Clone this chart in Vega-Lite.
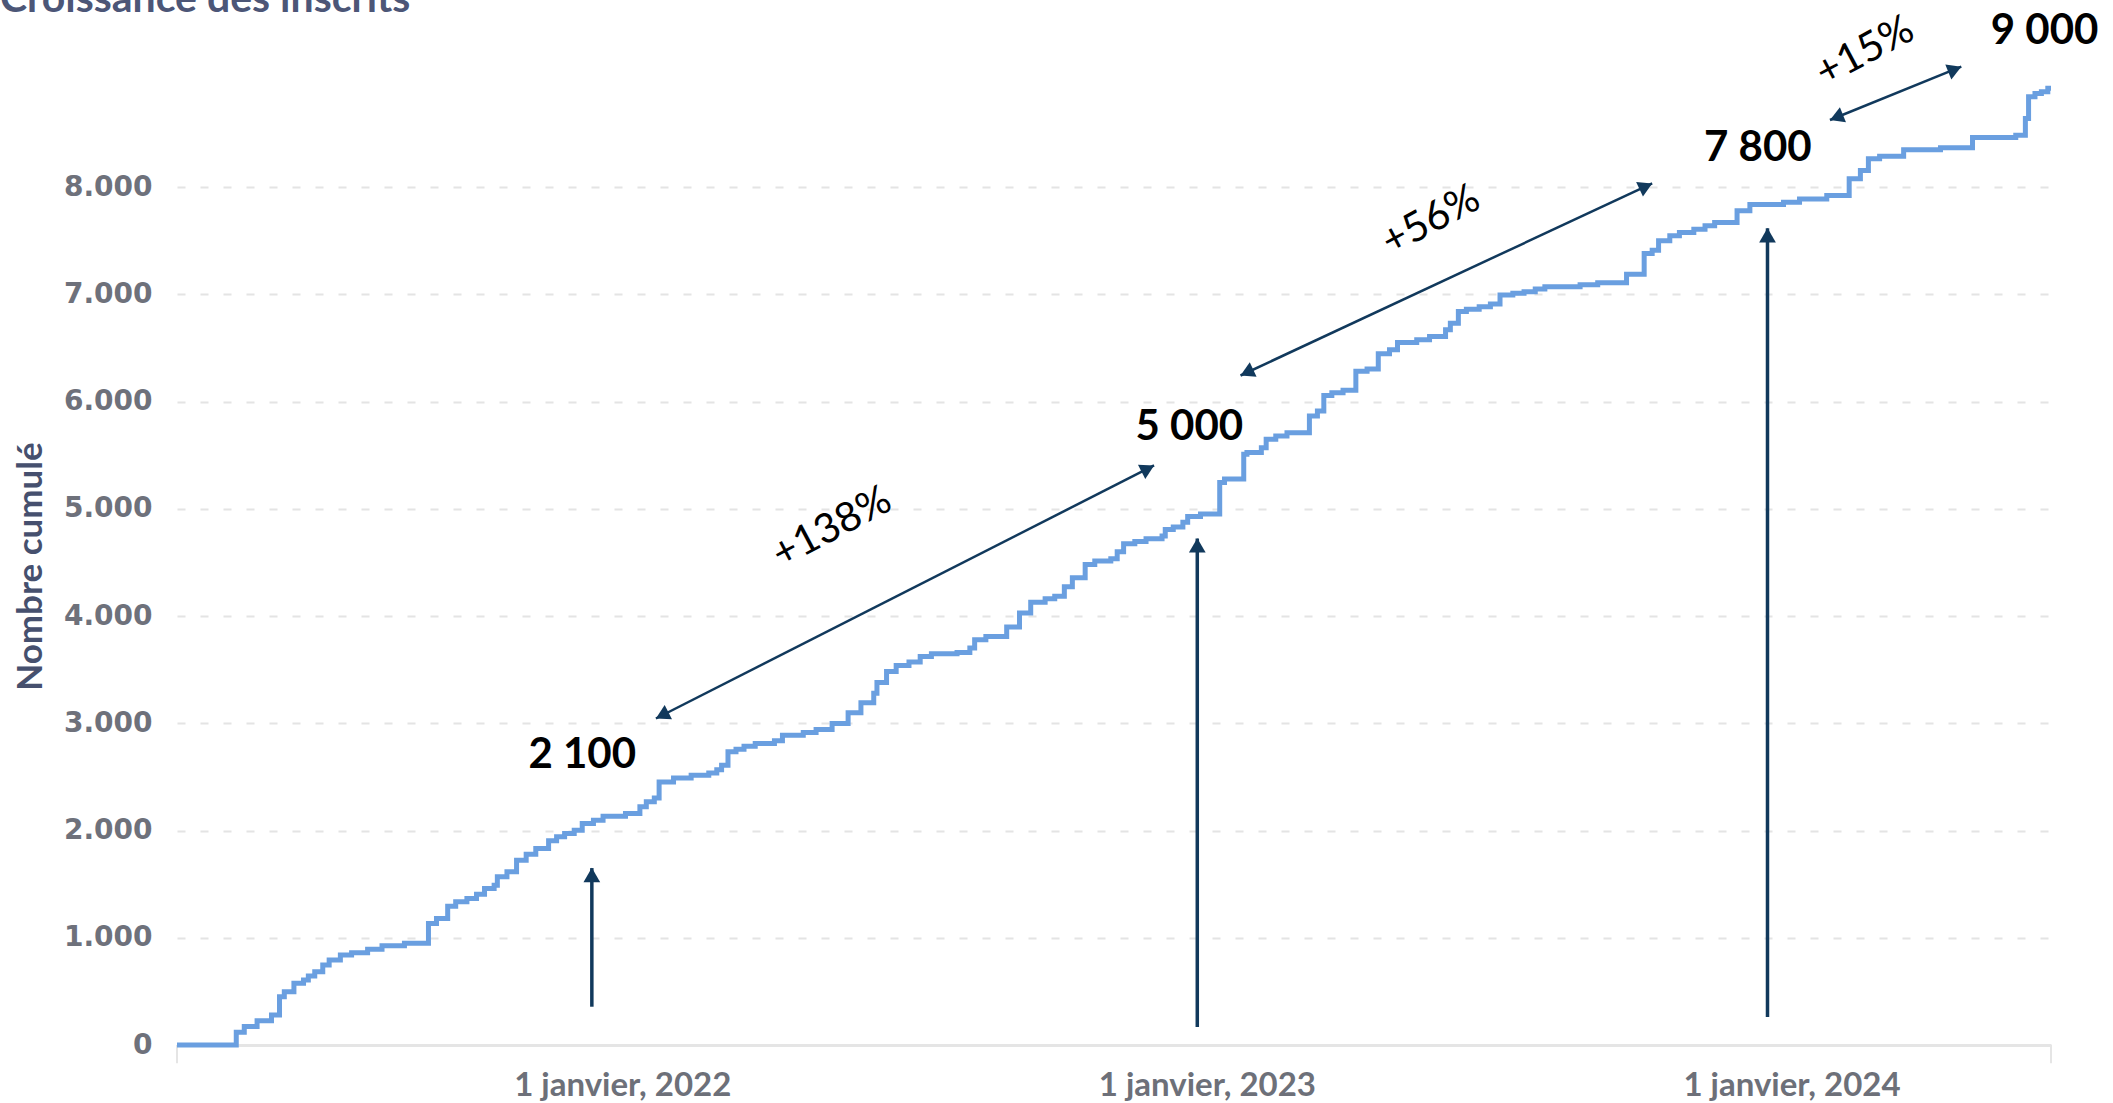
{
  "$schema": "https://vega.github.io/schema/vega-lite/v6.json",
  "autosize": {"type": "none"},
  "padding": {"left": 177, "top": 80, "right": 62, "bottom": 58},
  "width": 1874,
  "height": 965,
  "background": "white",
  "title": {
    "text": "Croissance des inscrits",
    "anchor": "start",
    "frame": "group",
    "dx": -177,
    "dy": 48,
    "baseline": "alphabetic",
    "font": "Lato",
    "fontSize": 41,
    "fontWeight": "bold",
    "color": "#4c5677"
  },
  "config": {"view": {"stroke": null}},
  "datasets": {
    "series": [
      {"d": "2021-03-29", "v": 0},
      {"d": "2021-05-05", "v": 118},
      {"d": "2021-05-10", "v": 172},
      {"d": "2021-05-18", "v": 227},
      {"d": "2021-05-27", "v": 280},
      {"d": "2021-06-01", "v": 450},
      {"d": "2021-06-04", "v": 497},
      {"d": "2021-06-10", "v": 575},
      {"d": "2021-06-16", "v": 606},
      {"d": "2021-06-19", "v": 643},
      {"d": "2021-06-23", "v": 683},
      {"d": "2021-06-28", "v": 746},
      {"d": "2021-07-02", "v": 792},
      {"d": "2021-07-09", "v": 839},
      {"d": "2021-07-16", "v": 861},
      {"d": "2021-07-26", "v": 892},
      {"d": "2021-08-04", "v": 926},
      {"d": "2021-08-18", "v": 948},
      {"d": "2021-09-02", "v": 1134},
      {"d": "2021-09-07", "v": 1180},
      {"d": "2021-09-14", "v": 1295},
      {"d": "2021-09-19", "v": 1336},
      {"d": "2021-09-26", "v": 1367},
      {"d": "2021-10-02", "v": 1407},
      {"d": "2021-10-07", "v": 1460},
      {"d": "2021-10-13", "v": 1491},
      {"d": "2021-10-15", "v": 1569},
      {"d": "2021-10-21", "v": 1615},
      {"d": "2021-10-27", "v": 1724},
      {"d": "2021-11-02", "v": 1780},
      {"d": "2021-11-08", "v": 1833},
      {"d": "2021-11-16", "v": 1904},
      {"d": "2021-11-21", "v": 1942},
      {"d": "2021-11-26", "v": 1973},
      {"d": "2021-12-02", "v": 2004},
      {"d": "2021-12-07", "v": 2066},
      {"d": "2021-12-14", "v": 2097},
      {"d": "2021-12-20", "v": 2134},
      {"d": "2022-01-03", "v": 2159},
      {"d": "2022-01-12", "v": 2221},
      {"d": "2022-01-16", "v": 2268},
      {"d": "2022-01-21", "v": 2303},
      {"d": "2022-01-24", "v": 2453},
      {"d": "2022-02-02", "v": 2490},
      {"d": "2022-02-13", "v": 2515},
      {"d": "2022-02-24", "v": 2537},
      {"d": "2022-03-01", "v": 2568},
      {"d": "2022-03-04", "v": 2609},
      {"d": "2022-03-08", "v": 2734},
      {"d": "2022-03-13", "v": 2759},
      {"d": "2022-03-18", "v": 2787},
      {"d": "2022-03-25", "v": 2812},
      {"d": "2022-04-06", "v": 2837},
      {"d": "2022-04-11", "v": 2890},
      {"d": "2022-04-24", "v": 2915},
      {"d": "2022-05-02", "v": 2943},
      {"d": "2022-05-12", "v": 2999},
      {"d": "2022-05-22", "v": 3099},
      {"d": "2022-05-30", "v": 3193},
      {"d": "2022-06-07", "v": 3280},
      {"d": "2022-06-09", "v": 3380},
      {"d": "2022-06-15", "v": 3483},
      {"d": "2022-06-21", "v": 3539},
      {"d": "2022-06-29", "v": 3571},
      {"d": "2022-07-06", "v": 3624},
      {"d": "2022-07-13", "v": 3649},
      {"d": "2022-07-29", "v": 3661},
      {"d": "2022-08-06", "v": 3702},
      {"d": "2022-08-09", "v": 3780},
      {"d": "2022-08-16", "v": 3811},
      {"d": "2022-08-29", "v": 3899},
      {"d": "2022-09-06", "v": 4030},
      {"d": "2022-09-13", "v": 4130},
      {"d": "2022-09-22", "v": 4161},
      {"d": "2022-09-28", "v": 4186},
      {"d": "2022-10-04", "v": 4273},
      {"d": "2022-10-09", "v": 4357},
      {"d": "2022-10-17", "v": 4482},
      {"d": "2022-10-23", "v": 4513},
      {"d": "2022-11-02", "v": 4535},
      {"d": "2022-11-06", "v": 4600},
      {"d": "2022-11-10", "v": 4675},
      {"d": "2022-11-17", "v": 4697},
      {"d": "2022-11-24", "v": 4721},
      {"d": "2022-12-04", "v": 4746},
      {"d": "2022-12-06", "v": 4808},
      {"d": "2022-12-11", "v": 4830},
      {"d": "2022-12-17", "v": 4876},
      {"d": "2022-12-20", "v": 4929},
      {"d": "2022-12-28", "v": 4953},
      {"d": "2023-01-09", "v": 5247},
      {"d": "2023-01-12", "v": 5278},
      {"d": "2023-01-24", "v": 5510},
      {"d": "2023-01-26", "v": 5525},
      {"d": "2023-02-04", "v": 5571},
      {"d": "2023-02-07", "v": 5649},
      {"d": "2023-02-13", "v": 5680},
      {"d": "2023-02-20", "v": 5711},
      {"d": "2023-03-06", "v": 5866},
      {"d": "2023-03-11", "v": 5912},
      {"d": "2023-03-15", "v": 6057},
      {"d": "2023-03-20", "v": 6082},
      {"d": "2023-03-27", "v": 6107},
      {"d": "2023-04-04", "v": 6283},
      {"d": "2023-04-11", "v": 6305},
      {"d": "2023-04-18", "v": 6447},
      {"d": "2023-04-25", "v": 6484},
      {"d": "2023-04-30", "v": 6552},
      {"d": "2023-05-12", "v": 6577},
      {"d": "2023-05-20", "v": 6608},
      {"d": "2023-05-30", "v": 6670},
      {"d": "2023-06-02", "v": 6732},
      {"d": "2023-06-07", "v": 6840},
      {"d": "2023-06-12", "v": 6862},
      {"d": "2023-06-20", "v": 6886},
      {"d": "2023-06-27", "v": 6911},
      {"d": "2023-07-03", "v": 6995},
      {"d": "2023-07-11", "v": 7010},
      {"d": "2023-07-18", "v": 7026},
      {"d": "2023-07-25", "v": 7050},
      {"d": "2023-07-31", "v": 7072},
      {"d": "2023-08-22", "v": 7090},
      {"d": "2023-09-02", "v": 7109},
      {"d": "2023-09-20", "v": 7188},
      {"d": "2023-10-01", "v": 7381},
      {"d": "2023-10-06", "v": 7413},
      {"d": "2023-10-10", "v": 7500},
      {"d": "2023-10-17", "v": 7547},
      {"d": "2023-10-23", "v": 7578},
      {"d": "2023-11-01", "v": 7609},
      {"d": "2023-11-08", "v": 7641},
      {"d": "2023-11-14", "v": 7672},
      {"d": "2023-11-28", "v": 7781},
      {"d": "2023-12-06", "v": 7838},
      {"d": "2023-12-27", "v": 7859},
      {"d": "2024-01-06", "v": 7891},
      {"d": "2024-01-23", "v": 7922},
      {"d": "2024-02-06", "v": 8078},
      {"d": "2024-02-13", "v": 8156},
      {"d": "2024-02-18", "v": 8266},
      {"d": "2024-02-25", "v": 8288},
      {"d": "2024-03-11", "v": 8350},
      {"d": "2024-04-03", "v": 8369},
      {"d": "2024-04-23", "v": 8463},
      {"d": "2024-05-20", "v": 8484},
      {"d": "2024-05-26", "v": 8641},
      {"d": "2024-05-28", "v": 8844},
      {"d": "2024-06-01", "v": 8875},
      {"d": "2024-06-05", "v": 8891},
      {"d": "2024-06-09", "v": 8922},
      {"d": "2024-06-11", "v": 8922}
    ],
    "edges": [
      {"d": "2021-03-29", "v": 0, "v2": -170},
      {"d": "2024-06-11", "v": 0, "v2": -170}
    ],
    "vertical": [
      {"d": "2021-12-13", "base": 357, "tip": 1650},
      {"d": "2022-12-26", "base": 168, "tip": 4725},
      {"d": "2023-12-17", "base": 261, "tip": 7617}
    ],
    "diagonal": [
      {"id": 1, "d1": "2022-01-22", "v1": 3045, "d2": "2022-11-29", "v2": 5405},
      {"id": 2, "d1": "2023-01-22", "v1": 6244, "d2": "2023-10-06", "v2": 8036},
      {"id": 3, "d1": "2024-01-25", "v1": 8627, "d2": "2024-04-16", "v2": 9124}
    ],
    "values": [
      {"d": "2021-12-07", "v": 2705, "label": "2 100"},
      {"d": "2022-12-21", "v": 5760, "label": "5 000"},
      {"d": "2023-12-11", "v": 8365, "label": "7 800"},
      {"d": "2024-06-07", "v": 9460, "label": "9 000"}
    ],
    "growth": [
      {"d": "2022-05-12", "v": 4823, "label": "+138%"},
      {"d": "2023-05-21", "v": 7687, "label": "+56%"},
      {"d": "2024-02-16", "v": 9263, "label": "+15%"}
    ]
  },
  "encoding": {
    "x": {
      "field": "d",
      "type": "temporal",
      "scale": {
        "type": "utc",
        "domain": [
          {"year": 2021, "month": 3, "date": 29, "utc": true},
          {"year": 2024, "month": 6, "date": 11, "utc": true}
        ]
      },
      "axis": {
        "title": null,
        "values": [
          {"year": 2022, "month": 1, "date": 1, "utc": true},
          {"year": 2023, "month": 1, "date": 1, "utc": true},
          {"year": 2024, "month": 1, "date": 1, "utc": true}
        ],
        "labelExpr": "'1 janvier, ' + utcyear(datum.value)",
        "labelLimit": 0,
        "grid": false,
        "ticks": false,
        "domain": true,
        "domainColor": "#e5e5e5",
        "domainWidth": 3,
        "labelFont": "Lato",
        "labelFontSize": 33,
        "labelFontWeight": "bold",
        "labelColor": "#6d7079",
        "labelBaseline": "middle",
        "labelPadding": 40
      }
    }
  },
  "layer": [
    {
      "data": {"name": "edges"},
      "mark": {"type": "rule", "color": "#e5e5e5", "strokeWidth": 2},
      "encoding": {
        "y": {"field": "v", "type": "quantitative"},
        "y2": {"field": "v2"}
      }
    },
    {
      "data": {"name": "series"},
      "mark": {"type": "line", "interpolate": "step-after", "color": "#6a9fe0", "strokeWidth": 5},
      "encoding": {
        "y": {
          "field": "v",
          "type": "quantitative",
          "scale": {"domain": [0, 9000], "nice": false, "zero": true},
          "axis": {
            "title": "Nombre cumulé",
            "titleFont": "Lato",
            "titleFontSize": 35,
            "titleFontWeight": "bold",
            "titleColor": "#46506e",
            "titleAngle": -90,
            "titleX": -147,
            "titleY": 486,
            "titleAlign": "center",
            "titleBaseline": "middle",
            "values": [0, 1000, 2000, 3000, 4000, 5000, 6000, 7000, 8000],
            "labelExpr": "replace(format(datum.value, ','), ',', '.')",
            "labelFont": "DejaVu Sans",
            "labelFontWeight": "bold",
            "labelFontSize": 28,
            "labelColor": "#6e717b",
            "labelPadding": 25,
            "domain": false,
            "ticks": false,
            "grid": true,
            "gridColor": "#e4e4e4",
            "gridWidth": 2,
            "gridDash": [8, 15],
            "gridOpacity": {"condition": {"test": "datum.value === 0", "value": 0}, "value": 1}
          }
        }
      }
    },
    {
      "data": {"name": "vertical"},
      "mark": {"type": "rule", "color": "#11395c", "strokeWidth": 3.5},
      "encoding": {
        "y": {"field": "base", "type": "quantitative"},
        "y2": {"field": "tip"}
      }
    },
    {
      "data": {"name": "vertical"},
      "mark": {"type": "point", "shape": "triangle-up", "filled": true, "color": "#11395c", "opacity": 1, "size": 280, "yOffset": 7},
      "encoding": {
        "y": {"field": "tip", "type": "quantitative"}
      }
    },
    {
      "data": {"name": "diagonal"},
      "mark": {"type": "rule", "color": "#11395c", "strokeWidth": 2.5},
      "encoding": {
        "x": {"field": "d1", "type": "temporal"},
        "x2": {"field": "d2"},
        "y": {"field": "v1", "type": "quantitative"},
        "y2": {"field": "v2"}
      }
    },
    {
      "data": {"name": "diagonal"},
      "transform": [{"filter": "datum.id === 1"}],
      "mark": {"type": "point", "shape": "triangle-up", "filled": true, "color": "#11395c", "opacity": 1, "size": 260, "angle": 63, "xOffset": -6.2, "yOffset": 3.2},
      "encoding": {
        "x": {"field": "d2", "type": "temporal"},
        "y": {"field": "v2", "type": "quantitative"}
      }
    },
    {
      "data": {"name": "diagonal"},
      "transform": [{"filter": "datum.id === 1"}],
      "mark": {"type": "point", "shape": "triangle-up", "filled": true, "color": "#11395c", "opacity": 1, "size": 260, "angle": 243, "xOffset": 6.2, "yOffset": -3.2},
      "encoding": {
        "x": {"field": "d1", "type": "temporal"},
        "y": {"field": "v1", "type": "quantitative"}
      }
    },
    {
      "data": {"name": "diagonal"},
      "transform": [{"filter": "datum.id === 2"}],
      "mark": {"type": "point", "shape": "triangle-up", "filled": true, "color": "#11395c", "opacity": 1, "size": 260, "angle": 65, "xOffset": -6.3, "yOffset": 3.0},
      "encoding": {
        "x": {"field": "d2", "type": "temporal"},
        "y": {"field": "v2", "type": "quantitative"}
      }
    },
    {
      "data": {"name": "diagonal"},
      "transform": [{"filter": "datum.id === 2"}],
      "mark": {"type": "point", "shape": "triangle-up", "filled": true, "color": "#11395c", "opacity": 1, "size": 260, "angle": 245, "xOffset": 6.3, "yOffset": -3.0},
      "encoding": {
        "x": {"field": "d1", "type": "temporal"},
        "y": {"field": "v1", "type": "quantitative"}
      }
    },
    {
      "data": {"name": "diagonal"},
      "transform": [{"filter": "datum.id === 3"}],
      "mark": {"type": "point", "shape": "triangle-up", "filled": true, "color": "#11395c", "opacity": 1, "size": 260, "angle": 68, "xOffset": -6.5, "yOffset": 2.6},
      "encoding": {
        "x": {"field": "d2", "type": "temporal"},
        "y": {"field": "v2", "type": "quantitative"}
      }
    },
    {
      "data": {"name": "diagonal"},
      "transform": [{"filter": "datum.id === 3"}],
      "mark": {"type": "point", "shape": "triangle-up", "filled": true, "color": "#11395c", "opacity": 1, "size": 260, "angle": 248, "xOffset": 6.5, "yOffset": -2.6},
      "encoding": {
        "x": {"field": "d1", "type": "temporal"},
        "y": {"field": "v1", "type": "quantitative"}
      }
    },
    {
      "data": {"name": "values"},
      "mark": {"type": "text", "font": "Lato", "fontSize": 42, "fontWeight": "bold", "color": "#000000", "align": "center", "baseline": "middle"},
      "encoding": {
        "y": {"field": "v", "type": "quantitative"},
        "text": {"field": "label"}
      }
    },
    {
      "data": {"name": "growth"},
      "mark": {"type": "text", "font": "Lato", "fontSize": 41, "color": "#000000", "align": "center", "baseline": "middle", "angle": 332},
      "encoding": {
        "y": {"field": "v", "type": "quantitative"},
        "text": {"field": "label"}
      }
    }
  ]
}
